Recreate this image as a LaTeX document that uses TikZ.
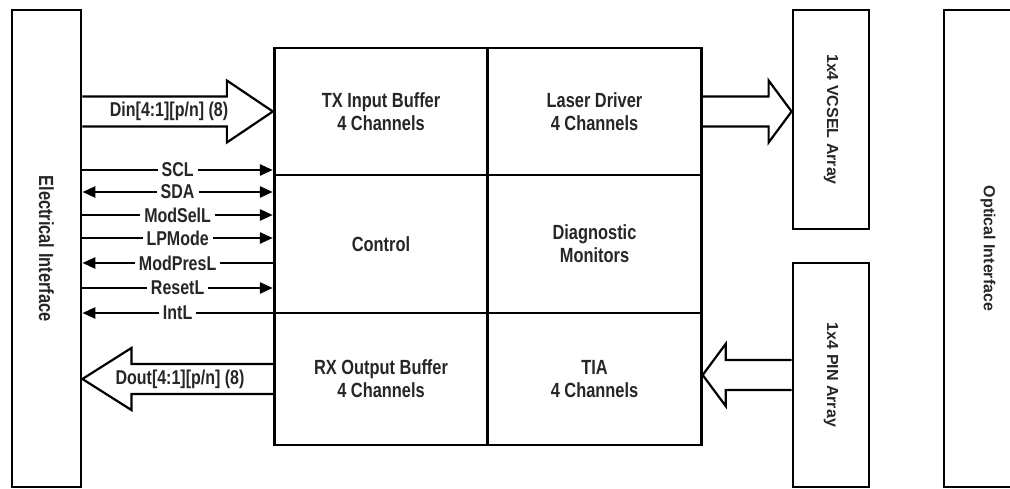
\documentclass[tikz,border=0pt]{standalone}
\usepackage{fontspec}
\setmainfont{Liberation Sans}[FakeStretch=0.8]
\newfontfamily\arrayfont{Liberation Sans}
\usepackage{tikz}
\usetikzlibrary{
    arrows.meta,
    calc
}

% open block arrow: shaft from #1 to the tip #2, head length #3 (sign gives direction)
\newcommand{\blockarrow}[3]{%
    \draw[fat] let \p1=(#1), \p2=(#2), \n1={#3} in
        (\x1,{\y2+15}) -- ({\x2-\n1},{\y2+15}) -- ({\x2-\n1},{\y2+31}) -- (\p2)
        -- ({\x2-\n1},{\y2-31}) -- ({\x2-\n1},{\y2-15}) -- (\x1,{\y2-15});
}

\begin{document}
\begin{tikzpicture}[
        x=1pt, y=-1pt,
        >={Triangle[length=13pt,width=11pt]},
        box/.style={
            draw,
            line width=2.8pt,
            inner sep=0pt,
            text=black!85,
            font=\fontsize{20.5}{23}\selectfont\bfseries
        },
        cell/.style={
            box,
            minimum width=213.5,
            align=center
        },
        arraybox/.style={
            box,
            minimum width=76,
            font=\arrayfont\fontsize{16}{19}\selectfont\bfseries
        },
        sig/.style={line width=2.6pt},
        siglab/.style={
            fill=white,
            inner xsep=4pt,
            inner ysep=0pt,
            text=black!85,
            font=\fontsize{20}{22}\selectfont\bfseries
        },
        fat/.style={line width=2.2pt, line join=miter},
        arrowlab/.style={
            text=black!85,
            font=\fontsize{20}{22}\selectfont\bfseries
        }
    ]
        \useasboundingbox (0,0) rectangle (1010,489);

        % interfaces and arrays
        \node[box, minimum width=69, minimum height=477] (elec) at (46.5,248.5)
            {\rotatebox{-90}{Electrical Interface}};
        \node[arraybox, minimum height=219] (vcsel) at (831,119.5)
            {\rotatebox{-90}{1x4 VCSEL Array}};
        \node[arraybox, minimum height=224] (pin) at (831,375)
            {\rotatebox{-90}{1x4 PIN Array}};
        \node[arraybox, minimum width=88, minimum height=477] (optical) at (988,248.5)
            {\rotatebox{-90}{Optical Interface}};

        % transceiver blocks
        \node[cell, minimum height=127] (txbuf) at (381,111.5) {TX Input Buffer\\4 Channels};
        \node[cell, minimum height=127] (laser) at (594.5,111.5) {Laser Driver\\4 Channels};
        \node[cell, minimum height=138] (ctrl) at (381,244) {Control};
        \node[cell, minimum height=138] (diag) at (594.5,244) {Diagnostic\\Monitors};
        \node[cell, minimum height=132] (rxbuf) at (381,379) {RX Output Buffer\\4 Channels};
        \node[cell, minimum height=132] (tia) at (594.5,379) {TIA\\4 Channels};

        % high speed data paths
        \blockarrow{elec.east}{txbuf.west}{46}
        \node[arrowlab] (din) at (169,111.5) {Din[4:1][p/n] (8)};
        \blockarrow{rxbuf.west}{elec.east |- rxbuf.west}{-49}
        \node[arrowlab] (dout) at (180,379) {Dout[4:1][p/n] (8)};
        \blockarrow{laser.east}{vcsel.west |- laser.east}{23}
        \blockarrow{pin.west}{tia.east |- pin.west}{-23}

        % low speed control signals
        \draw[sig, ->] (elec.east |- 0,170) -- node[siglab] {SCL} (ctrl.west |- 0,170);
        \draw[sig, <->] (elec.east |- 0,192) -- node[siglab] {SDA} (ctrl.west |- 0,192);
        \draw[sig, ->] (elec.east |- 0,215) -- node[siglab] {ModSelL} (ctrl.west |- 0,215);
        \draw[sig, ->] (elec.east |- 0,238) -- node[siglab] {LPMode} (ctrl.west |- 0,238);
        \draw[sig, <-] (elec.east |- 0,263) -- node[siglab] {ModPresL} (ctrl.west |- 0,263);
        \draw[sig, ->] (elec.east |- 0,288) -- node[siglab] {ResetL} (ctrl.west |- 0,288);
        \draw[sig, <-] (elec.east |- 0,313) -- node[siglab] {IntL} (ctrl.west |- 0,313);
    \end{tikzpicture}
\end{document}
